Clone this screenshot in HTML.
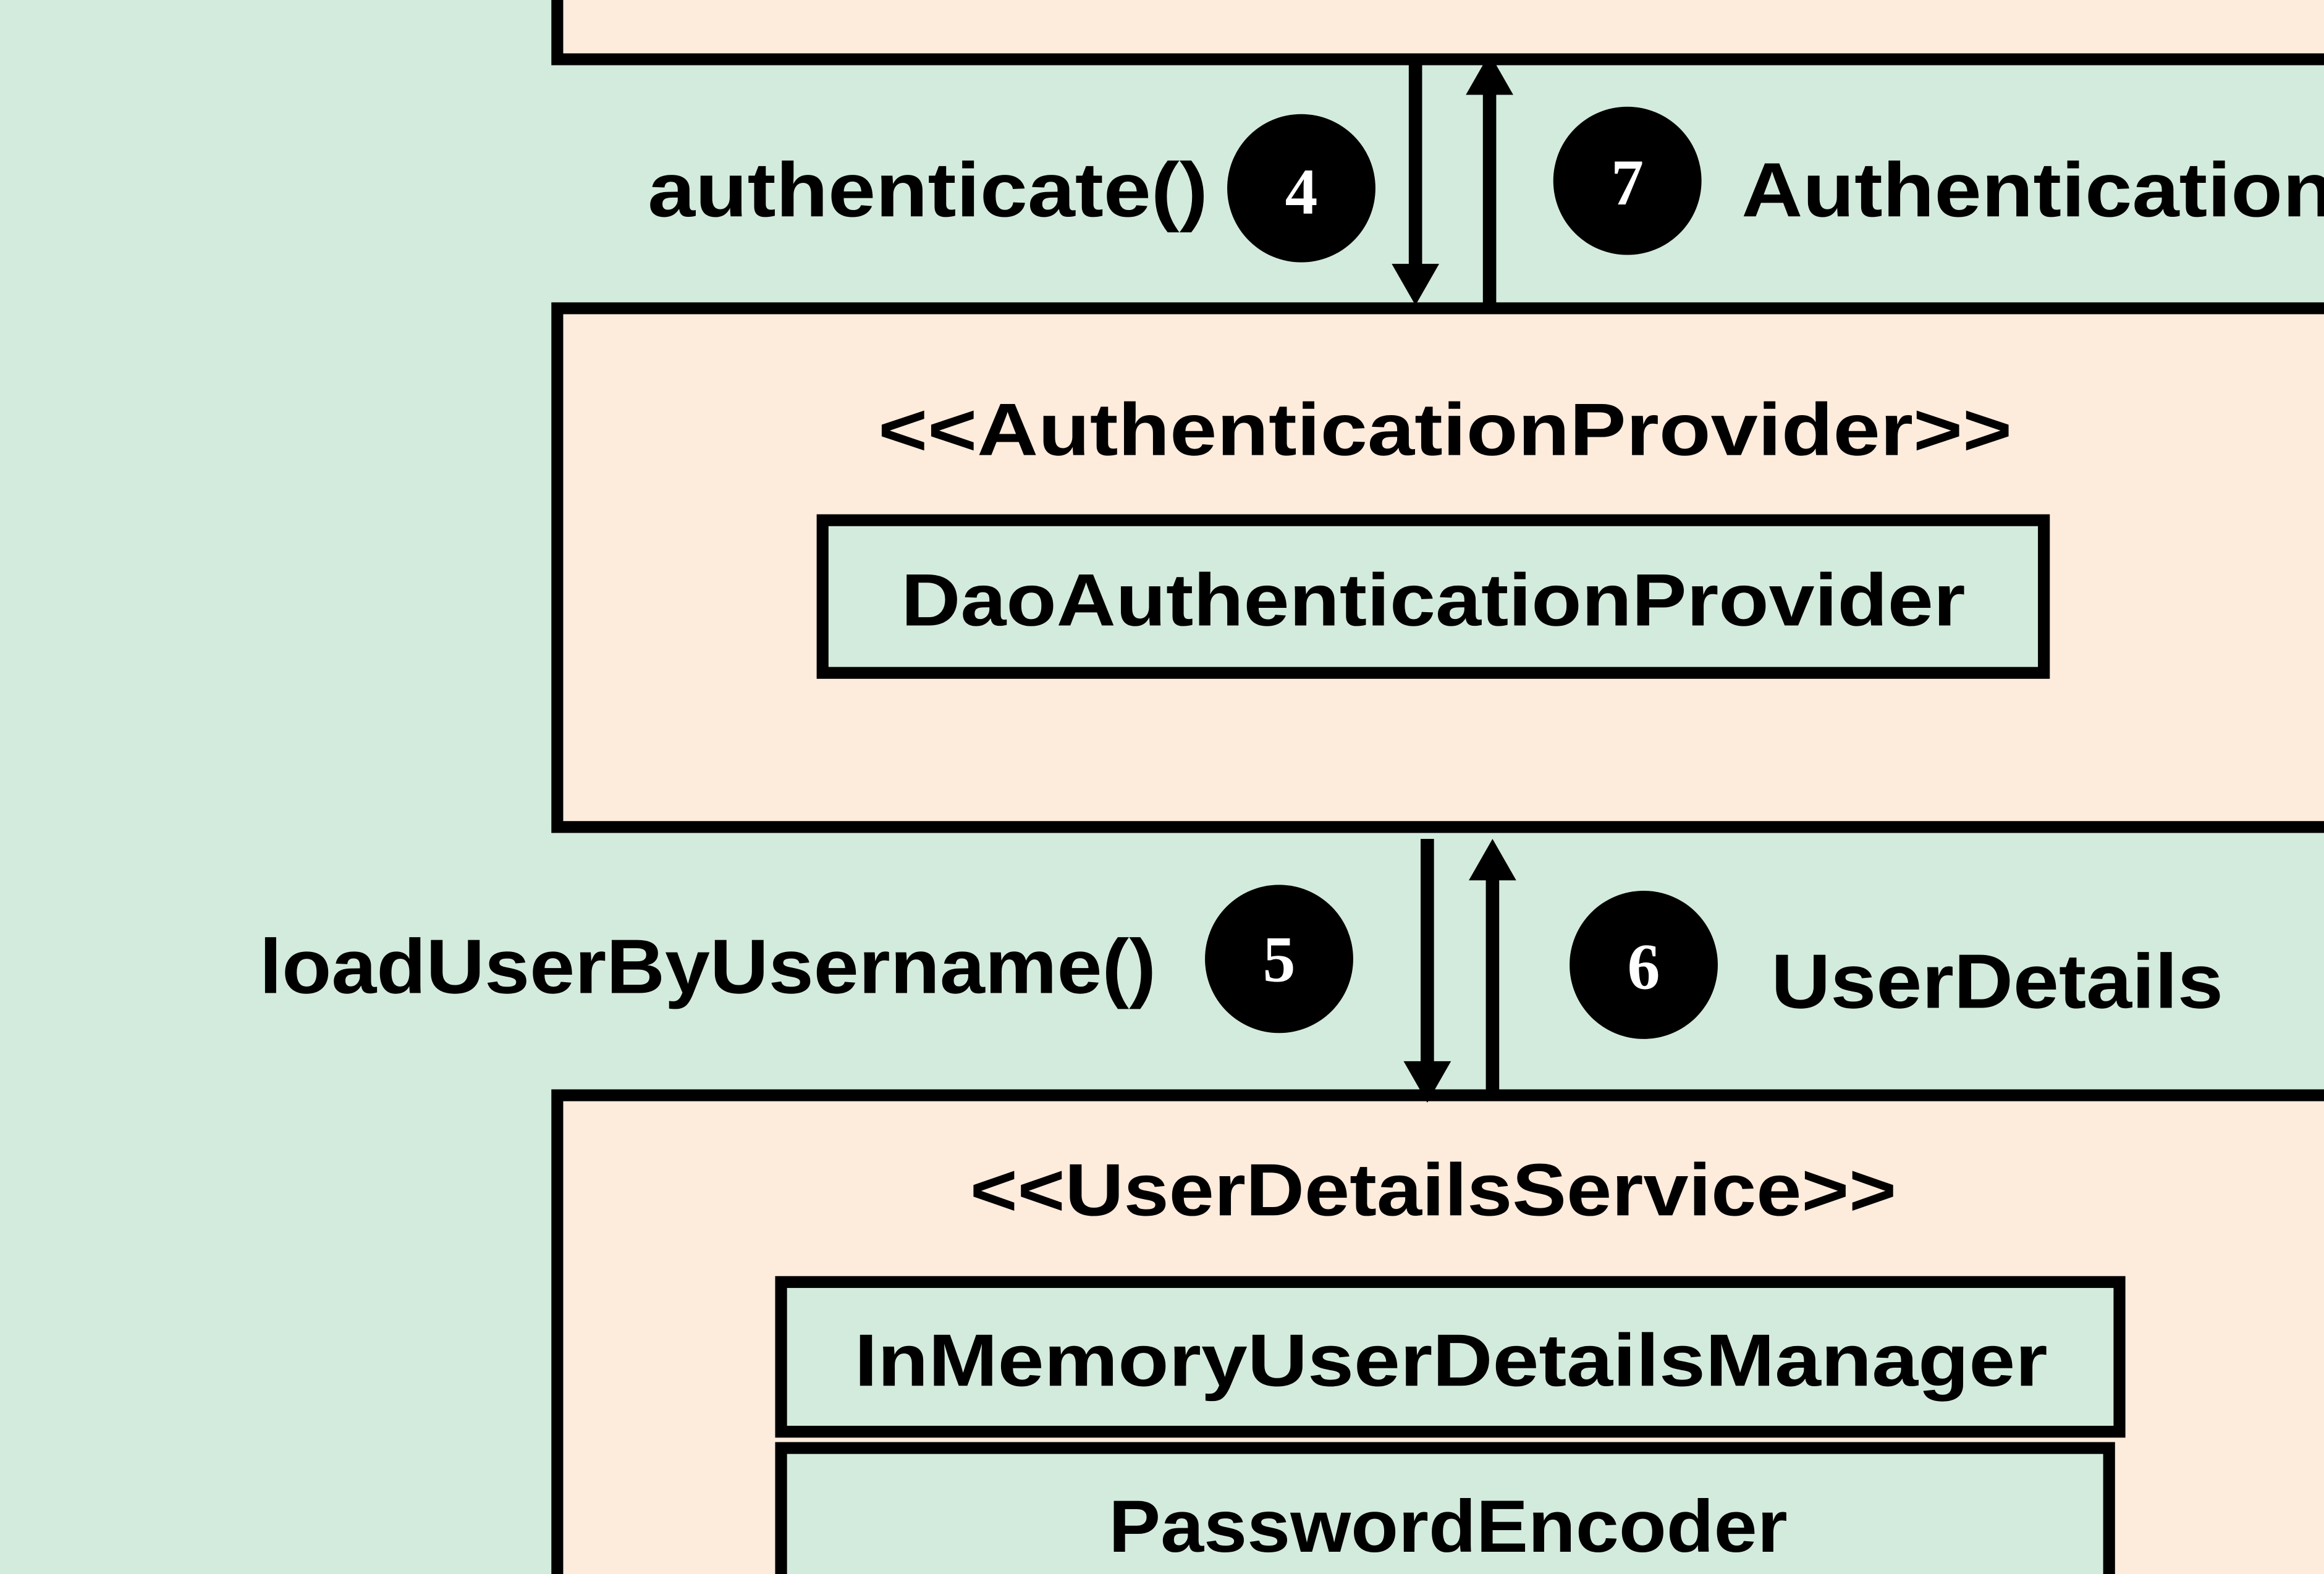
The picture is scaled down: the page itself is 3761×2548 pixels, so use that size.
<!DOCTYPE html>
<html><head><meta charset="utf-8"><style>
html,body{margin:0;padding:0;background:#d3ebdd;}
svg{display:block}
text{font-family:"Liberation Sans",sans-serif;fill:#000}
</style></head><body>
<svg width="3761" height="2548" viewBox="0 0 1568 1062" preserveAspectRatio="none" xmlns="http://www.w3.org/2000/svg">
<rect x="0" y="0" width="1568" height="1062" fill="#d3ebdd"/>
<rect x="376" y="-20" width="1200" height="60" fill="#fdebdc" stroke="#000" stroke-width="8"/>
<rect x="376" y="208" width="1200" height="350" fill="#fdebdc" stroke="#000" stroke-width="8"/>
<text x="975" y="307" font-size="50" font-weight="bold" text-anchor="middle" textLength="765" lengthAdjust="spacingAndGlyphs">&lt;&lt;AuthenticationProvider&gt;&gt;</text>
<rect x="555" y="351" width="824" height="103" fill="#d3ebdd" stroke="#000" stroke-width="8"/>
<text x="967" y="422" font-size="50" font-weight="bold" text-anchor="middle" textLength="718" lengthAdjust="spacingAndGlyphs">DaoAuthenticationProvider</text>
<rect x="376" y="739" width="1200" height="360" fill="#fdebdc" stroke="#000" stroke-width="8"/>
<text x="967" y="820" font-size="50" font-weight="bold" text-anchor="middle" textLength="625" lengthAdjust="spacingAndGlyphs">&lt;&lt;UserDetailsService&gt;&gt;</text>
<rect x="527" y="865" width="903" height="101" fill="#d3ebdd" stroke="#000" stroke-width="8"/>
<text x="979" y="935" font-size="50" font-weight="bold" text-anchor="middle" textLength="805" lengthAdjust="spacingAndGlyphs">InMemoryUserDetailsManager</text>
<rect x="527" y="977" width="896" height="120" fill="#d3ebdd" stroke="#000" stroke-width="8"/>
<text x="977" y="1047" font-size="50" font-weight="bold" text-anchor="middle" textLength="458" lengthAdjust="spacingAndGlyphs">PasswordEncoder</text>
<line x1="955" y1="42" x2="955" y2="180" stroke="#000" stroke-width="9"/>
<polygon points="939,178 971,178 955,206" fill="#000"/>
<line x1="1005" y1="62" x2="1005" y2="206" stroke="#000" stroke-width="9"/>
<polygon points="989,64 1021,64 1005,36" fill="#000"/>
<line x1="963" y1="566" x2="963" y2="718" stroke="#000" stroke-width="9"/>
<polygon points="947,716 979,716 963,744" fill="#000"/>
<line x1="1007" y1="592" x2="1007" y2="737" stroke="#000" stroke-width="9"/>
<polygon points="991,594 1023,594 1007,566" fill="#000"/>
<circle cx="878" cy="127" r="50" fill="#000"/>
<text x="878" y="144" font-size="44" font-weight="bold" text-anchor="middle" style="fill:#fff;font-family:'Liberation Serif',serif">4</text>
<circle cx="1098" cy="122" r="50" fill="#000"/>
<text x="1098" y="138" font-size="44" font-weight="bold" text-anchor="middle" style="fill:#fff;font-family:'Liberation Serif',serif">7</text>
<circle cx="863" cy="647" r="50" fill="#000"/>
<text x="863" y="662" font-size="44" font-weight="bold" text-anchor="middle" style="fill:#fff;font-family:'Liberation Serif',serif">5</text>
<circle cx="1109" cy="651" r="50" fill="#000"/>
<text x="1109" y="667" font-size="44" font-weight="bold" text-anchor="middle" style="fill:#fff;font-family:'Liberation Serif',serif">6</text>
<text x="437" y="146" font-size="52" font-weight="bold" textLength="378" lengthAdjust="spacingAndGlyphs">authenticate()</text>
<text x="1175" y="146" font-size="52" font-weight="bold" textLength="400" lengthAdjust="spacingAndGlyphs">Authentication</text>
<text x="175" y="670" font-size="52" font-weight="bold" textLength="605" lengthAdjust="spacingAndGlyphs">loadUserByUsername()</text>
<text x="1195" y="680" font-size="52" font-weight="bold" textLength="305" lengthAdjust="spacingAndGlyphs">UserDetails</text>
</svg>
</body></html>
